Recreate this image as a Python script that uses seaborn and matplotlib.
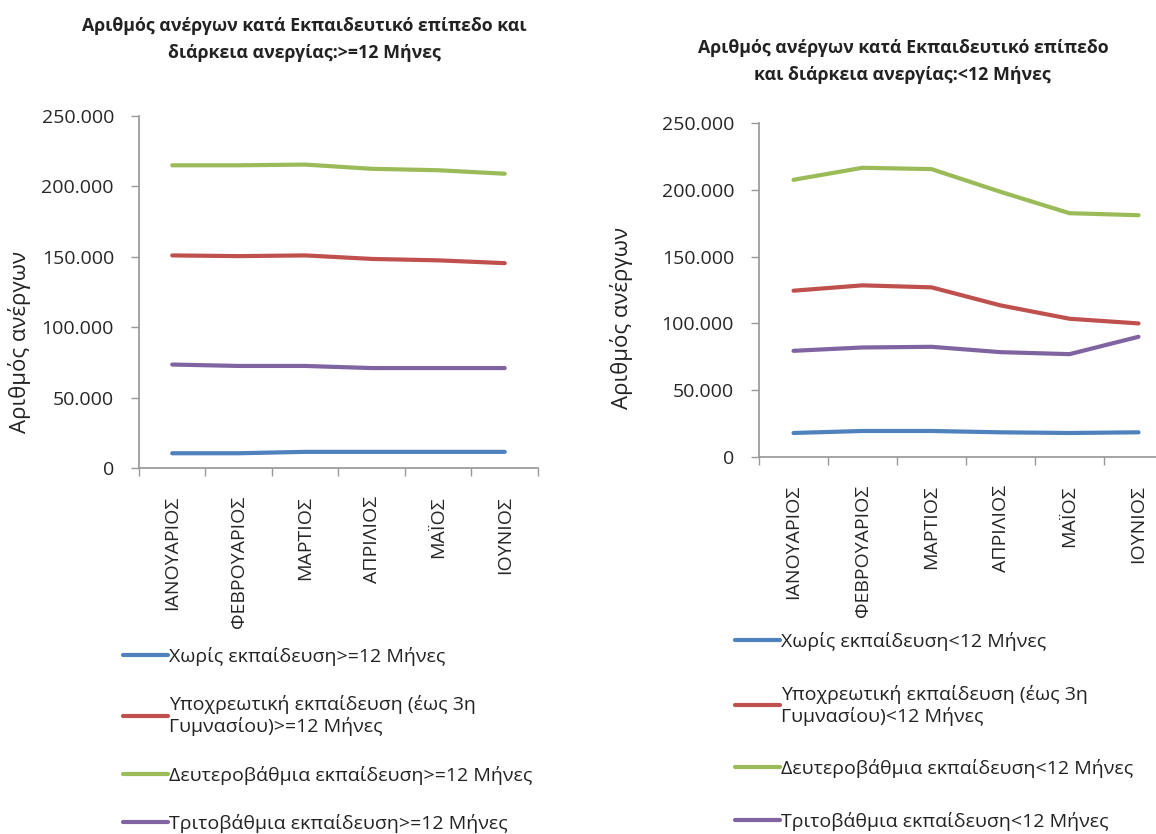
import seaborn as sns
import matplotlib.pyplot as plt
import matplotlib.ticker as mticker
import pandas as pd

months = ['ΙΑΝΟΥΑΡΙΟΣ', 'ΦΕΒΡΟΥΑΡΙΟΣ', 'ΜΑΡΤΙΟΣ', 'ΑΠΡΙΛΙΟΣ', 'ΜΑΪΟΣ', 'ΙΟΥΝΙΟΣ']

# >=12 months
long_none = [10500, 10500, 11500, 11500, 11500, 11500]
long_comp = [151000, 150500, 151000, 148500, 147500, 145500]
long_sec = [215000, 215000, 215500, 212500, 211500, 209000]
long_ter = [73500, 72500, 72500, 71000, 71000, 71000]

# <12 months
short_none = [18000, 19500, 19500, 18500, 18000, 18500]
short_comp = [124500, 128500, 127000, 113500, 103500, 100000]
short_sec = [207500, 216500, 215500, 198500, 182500, 181000]
short_ter = [79500, 82000, 82500, 78500, 77000, 90000]

long_labels = ['Χωρίς εκπαίδευση>=12 Μήνες',
               'Υποχρεωτική εκπαίδευση (έως 3η\nΓυμνασίου)>=12 Μήνες',
               'Δευτεροβάθμια εκπαίδευση>=12 Μήνες',
               'Τριτοβάθμια εκπαίδευση>=12 Μήνες']
short_labels = ['Χωρίς εκπαίδευση<12 Μήνες',
                'Υποχρεωτική εκπαίδευση (έως 3η\nΓυμνασίου)<12 Μήνες',
                'Δευτεροβάθμια εκπαίδευση<12 Μήνες',
                'Τριτοβάθμια εκπαίδευση<12 Μήνες']
colors = ['#4F81BD', '#C0504D', '#9BBB59', '#8064A2']

sns.set_theme(style='white')
plt.rcParams['font.family'] = ['Open Sans', 'DejaVu Sans']
plt.rcParams['text.color'] = '#222222'


def make_df(series, labels):
    rows = []
    for vals, lab in zip(series, labels):
        for i, v in enumerate(vals):
            rows.append({'x': i, 'value': v, 'series': lab})
    return pd.DataFrame(rows)


def fmt(v, pos):
    return f"{int(round(v)):,}".replace(',', '.')


fig = plt.figure(figsize=(11.56, 8.34), dpi=100)
ax1 = fig.add_axes([0.1202, 0.4388, 0.3452, 0.4221])
ax2 = fig.add_axes([0.6566, 0.4520, 0.3581, 0.4005])

# (axes, data, labels, legend x, legend top, legend spacing, ylabel x, ylabel y)
setups = [
    (ax1, [long_none, long_comp, long_sec, long_ter], long_labels, 0.1064, 0.224, 1.5, 0.0173, 0.59),
    (ax2, [short_none, short_comp, short_sec, short_ter], short_labels, 0.636, 0.242, 1.72, 0.538, 0.619),
]

for ax, series, labels, lx, ly, lsp, yx, yy in setups:
    df = make_df(series, labels)
    sns.lineplot(data=df, x='x', y='value', hue='series', palette=colors,
                 linewidth=3, ax=ax, legend=False)
    ax.set_xlim(-0.5, 5.5)
    ax.set_ylim(0, 250000)
    ax.yaxis.set_major_locator(mticker.MultipleLocator(50000))
    ax.yaxis.set_major_formatter(mticker.FuncFormatter(fmt))
    ax.set_xticks(range(len(months)))
    ax.set_xticklabels(months, rotation=90, fontsize=14)
    ax.xaxis.set_minor_locator(mticker.FixedLocator([i - 0.5 for i in range(7)]))
    ax.tick_params(axis='x', which='major', length=0, pad=20)
    ax.tick_params(axis='x', which='minor', length=6, width=1, color='#999999', direction='out')
    ax.tick_params(axis='y', length=6, width=1, color='#999999', direction='out',
                   labelsize=14, pad=12)
    ax.tick_params(bottom=True, left=True, which='both')
    for s in ['top', 'right']:
        ax.spines[s].set_visible(False)
    for s in ['left', 'bottom']:
        ax.spines[s].set_color('#999999')
    ax.set_xlabel('')
    ax.set_ylabel('')
    fig.text(yx, yy, 'Αριθμός ανέργων', rotation=90, ha='center', va='center', fontsize=16)
    handles = [plt.Line2D([], [], color=c, linewidth=3) for c in colors]
    fig.legend(handles, labels, loc='upper left', bbox_to_anchor=(lx, ly),
               frameon=False, fontsize=14, handlelength=2.3, labelspacing=lsp,
               handletextpad=0.05, borderpad=0, borderaxespad=0)

fig.text(0.263, 0.953, 'Αριθμός ανέργων κατά Εκπαιδευτικό επίπεδο και\nδιάρκεια ανεργίας:>=12 Μήνες',
         ha='center', va='center', fontsize=12.8, fontweight='bold', linespacing=1.65)
fig.text(0.781, 0.926, 'Αριθμός ανέργων κατά Εκπαιδευτικό επίπεδο\nκαι διάρκεια ανεργίας:<12 Μήνες',
         ha='center', va='center', fontsize=12.8, fontweight='bold', linespacing=1.65)

fig.savefig('out.png', dpi=100)
